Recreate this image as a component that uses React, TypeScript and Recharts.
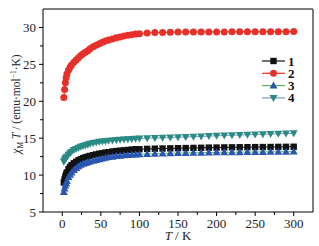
import React from "react";
import { LineChart, Line, XAxis, YAxis, Legend, ReferenceLine } from "recharts";

const temperature = [2, 3, 4, 5, 6, 8, 10, 12, 15, 18, 21, 24, 27, 30, 33, 36, 40, 44, 48, 52, 56, 60, 65, 70, 75, 80, 85, 90, 95, 100, 110, 120, 130, 140, 150, 160, 170, 180, 190, 200, 210, 220, 230, 240, 250, 260, 270, 280, 290, 300];

const series1 = [9.0, 9.4, 9.8, 10.1, 10.35, 10.8, 11.1, 11.35, 11.6, 11.8, 12.0, 12.15, 12.3, 12.4, 12.5, 12.6, 12.7, 12.8, 12.9, 12.95, 13.05, 13.1, 13.2, 13.25, 13.3, 13.35, 13.4, 13.45, 13.5, 13.5, 13.55, 13.58, 13.6, 13.62, 13.64, 13.66, 13.68, 13.7, 13.72, 13.73, 13.75, 13.76, 13.77, 13.78, 13.79, 13.8, 13.81, 13.82, 13.83, 13.84];
const series2 = [20.5, 21.6, 22.5, 23.2, 23.7, 24.2, 24.6, 24.9, 25.3, 25.6, 25.9, 26.2, 26.45, 26.65, 26.85, 27.1, 27.4, 27.6, 27.8, 28.0, 28.15, 28.3, 28.45, 28.6, 28.7, 28.85, 28.93, 29.0, 29.1, 29.15, 29.25, 29.3, 29.33, 29.35, 29.37, 29.38, 29.38, 29.39, 29.4, 29.4, 29.4, 29.41, 29.41, 29.42, 29.42, 29.42, 29.43, 29.43, 29.43, 29.44];
const series3 = [7.7, 8.2, 8.6, 8.9, 9.2, 9.7, 10.05, 10.35, 10.7, 10.95, 11.2, 11.4, 11.55, 11.65, 11.75, 11.85, 11.95, 12.05, 12.15, 12.25, 12.35, 12.45, 12.5, 12.58, 12.63, 12.68, 12.72, 12.76, 12.8, 12.83, 12.87, 12.9, 12.93, 12.96, 12.98, 13.0, 13.02, 13.04, 13.06, 13.08, 13.09, 13.1, 13.11, 13.12, 13.13, 13.14, 13.15, 13.16, 13.17, 13.18];
const series4 = [11.8, 12.0, 12.2, 12.35, 12.5, 12.75, 12.95, 13.15, 13.4, 13.55, 13.7, 13.85, 13.95, 14.05, 14.15, 14.25, 14.35, 14.4, 14.5, 14.55, 14.6, 14.65, 14.7, 14.75, 14.8, 14.83, 14.86, 14.9, 14.92, 14.95, 15.0, 15.02, 15.05, 15.08, 15.12, 15.16, 15.2, 15.24, 15.28, 15.32, 15.36, 15.4, 15.43, 15.46, 15.5, 15.53, 15.56, 15.6, 15.63, 15.66];

const seriesNames = ["1", "2", "3", "4"];
const xTicks = [0, 25, 50, 75, 100, 125, 150, 175, 200, 225, 250, 275, 300];
const yTicks = [5, 7.5, 10, 12.5, 15, 17.5, 20, 22.5, 25, 27.5, 30];

const data = temperature.map((t, i) => ({
  t,
  s1: series1[i],
  s2: series2[i],
  s3: series3[i],
  s4: series4[i],
}));

const FONT = "'Liberation Serif', 'Times New Roman', serif";

const markerColors = ["#111111", "#e8302a", "#2a56b0", "#2a8a84"];
const lineColors = ["#111111", "#e8302a", "#5cb85c", "#7b95c8"];
const shapes = ["square", "circle", "up", "down"];

function Marker({ cx, cy, shape, color }: any) {
  if (cx == null || cy == null || isNaN(cx) || isNaN(cy)) return null;
  if (shape === "square") {
    return <rect x={cx - 3.2} y={cy - 3.2} width={6.4} height={6.4} fill={color} />;
  }
  if (shape === "circle") {
    return <circle cx={cx} cy={cy} r={3.5} fill={color} />;
  }
  if (shape === "up") {
    return <polygon points={`${cx},${cy - 4} ${cx - 4},${cy + 3} ${cx + 4},${cy + 3}`} fill={color} />;
  }
  return <polygon points={`${cx},${cy + 4} ${cx - 4},${cy - 3} ${cx + 4},${cy - 3}`} fill={color} />;
}

function XTick(props: any) {
  const { x, y, payload } = props;
  const major = payload.value % 50 === 0;
  return (
    <g>
      <line x1={x} x2={x} y1={y} y2={y + (major ? 4 : 3)} stroke="#000" strokeWidth={1} />
      {major && (
        <text x={x} y={y + 16} textAnchor="middle" fontFamily={FONT} fontSize={13} fill="#222">
          {payload.value}
        </text>
      )}
    </g>
  );
}

function YTick(props: any) {
  const { x, y, payload } = props;
  const major = payload.value % 5 === 0;
  return (
    <g>
      <line x1={x} x2={x - (major ? 4 : 3)} y1={y} y2={y} stroke="#000" strokeWidth={1} />
      {major && (
        <text x={x - 7} y={y} dy="0.35em" textAnchor="end" fontFamily={FONT} fontSize={13} fill="#222">
          {payload.value}
        </text>
      )}
    </g>
  );
}

function LegendContent() {
  return (
    <svg width={60} height={52}>
      {seriesNames.map((n, i) => {
        const y = 6 + i * 12.3;
        return (
          <g key={n}>
            <line x1={2} x2={25} y1={y} y2={y} stroke={lineColors[i]} strokeWidth={1.2} />
            <Marker cx={13.5} cy={y} shape={shapes[i]} color={markerColors[i]} />
            <text x={28} y={y} dy="0.35em" fontFamily={FONT} fontSize={13} fontWeight="bold" fill="#111">
              {n}
            </text>
          </g>
        );
      })}
    </svg>
  );
}

export default function App() {
  const keys = ["s1", "s2", "s3", "s4"];
  return (
    <div style={{ position: "absolute", left: 0, top: 0, width: 319, height: 246, background: "#fff" }}>
      <LineChart width={319} height={246} data={data} margin={{ top: 9, right: 6, bottom: 0, left: 0 }}>
        <XAxis
          dataKey="t"
          type="number"
          domain={[-25, 325]}
          ticks={xTicks}
          height={34}
          tickSize={0}
          tickMargin={0}
          tickLine={false}
          axisLine={{ stroke: "#000", strokeWidth: 1 }}
          tick={<XTick />}
          interval={0}
          allowDataOverflow
          label={{
            content: () => (
              <text x={178} y={240} textAnchor="middle" fontFamily={FONT} fontSize={13} fill="#222">
                <tspan fontStyle="italic">T</tspan>
                <tspan> / K</tspan>
              </text>
            ),
          }}
        />
        <YAxis
          type="number"
          domain={[5, 32.5]}
          ticks={yTicks}
          width={43}
          tickSize={0}
          tickMargin={0}
          tickLine={false}
          axisLine={{ stroke: "#000", strokeWidth: 1 }}
          tick={<YTick />}
          interval={0}
          allowDataOverflow
          label={{
            content: () => (
              <text
                x={0}
                y={0}
                transform="translate(20,104) rotate(-90)"
                textAnchor="middle"
                fontFamily={FONT}
                fontSize={11.5}
                fill="#222"
              >
                <tspan fontStyle="italic">χ</tspan>
                <tspan fontSize={7.5} dy={2.5}>M</tspan>
                <tspan fontStyle="italic" dy={-2.5}> T</tspan>
                <tspan> / (emu·mol</tspan>
                <tspan fontSize={7.5} dy={-4}>−1</tspan>
                <tspan dy={4}>·K)</tspan>
              </text>
            ),
          }}
        />
        <ReferenceLine y={32.5} stroke="#555" strokeWidth={1.5} />
        <ReferenceLine x={325} stroke="#555" strokeWidth={1.5} />
        {keys.map((k, i) => (
          <Line
            key={k}
            dataKey={k}
            name={seriesNames[i]}
            type="linear"
            stroke={lineColors[i]}
            strokeWidth={1}
            isAnimationActive={false}
            dot={(p: any) => <Marker key={`${k}-${p.index}`} cx={p.cx} cy={p.cy} shape={shapes[i]} color={markerColors[i]} />}
            activeDot={false}
          />
        ))}
        <Legend
          layout="vertical"
          align="center"
          verticalAlign="middle"
          content={<LegendContent />}
          wrapperStyle={{ position: "absolute", left: 260, top: 55, width: 60, height: 52 }}
        />
      </LineChart>
    </div>
  );
}
